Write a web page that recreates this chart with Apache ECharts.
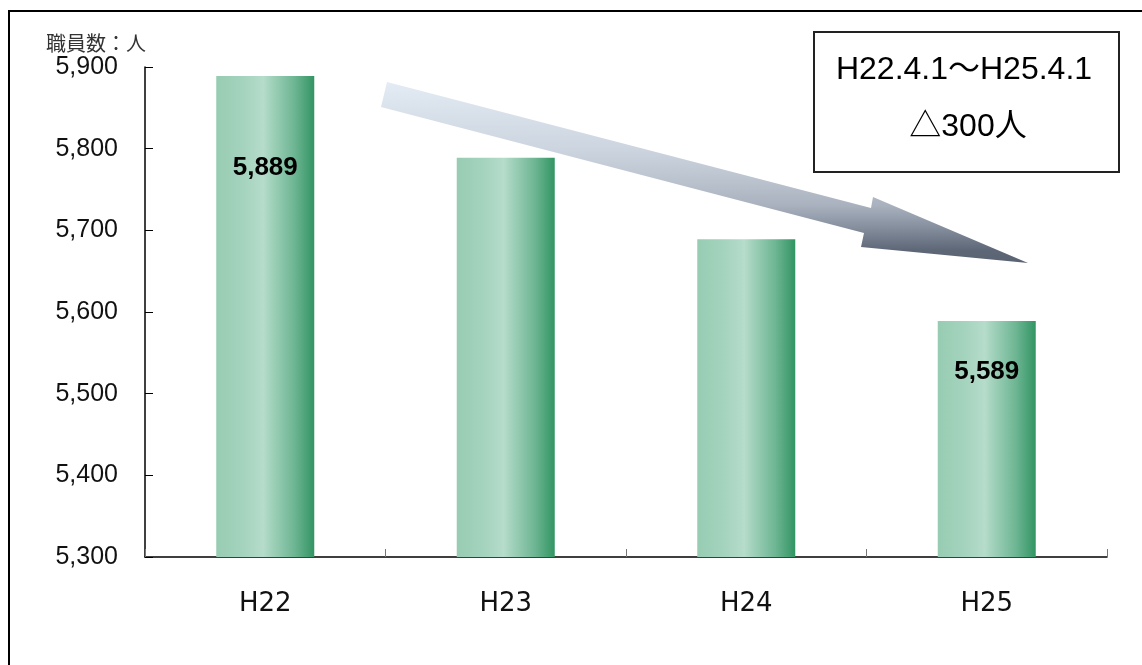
<!DOCTYPE html>
<html>
<head>
<meta charset="utf-8">
<script src="https://cdn.jsdelivr.net/npm/echarts@6/dist/echarts.min.js"></script>
<style>
html,body{margin:0;padding:0;background:#fff;}
#chart{width:1142px;height:665px;}
</style>
</head>
<body>
<div id="chart"></div>
<script>
const categories = ['H22', 'H23', 'H24', 'H25'];
const staffCounts = [5889, 5789, 5689, 5589];
const yTicks = [5300, 5400, 5500, 5600, 5700, 5800, 5900];
const labelledBars = ['H22', 'H25'];
const labelOffsets = [79, 0, 0, 38];
const yAxisTitle = '職員数：人';
const noteLines = ['H22.4.1～H25.4.1', '△300人'];

const chart = echarts.init(document.getElementById('chart'), null, {renderer: 'canvas'});

const barGradient = new echarts.graphic.LinearGradient(0, 0, 1, 0, [
  {offset: 0, color: '#97ccb2'},
  {offset: 0.3, color: '#a6d4bf'},
  {offset: 0.48, color: '#b6dccb'},
  {offset: 0.56, color: '#a2d2bb'},
  {offset: 0.8, color: '#6db593'},
  {offset: 1, color: '#329562'}
]);

const arrowGradient = new echarts.graphic.LinearGradient(0, 80, 0, 265, [
  {offset: 0, color: '#e4ecf6'},
  {offset: 0.15, color: '#dae2ec'},
  {offset: 0.38, color: '#ccd4df'},
  {offset: 0.55, color: '#bac2ce'},
  {offset: 0.68, color: '#a9b1be'},
  {offset: 0.8, color: '#848e9d'},
  {offset: 0.92, color: '#5d6777'},
  {offset: 1, color: '#58626f'}
], true);

const fmt = v => v.toLocaleString('en-US');

const seriesData = staffCounts.map((v, i) => {
  const item = {value: v};
  if (labelledBars.indexOf(categories[i]) >= 0) {
    item.label = {
      show: true,
      position: 'insideTop',
      distance: labelOffsets[i],
      formatter: p => fmt(p.value),
      fontFamily: 'Liberation Sans, Arial, sans-serif',
      fontWeight: 'bold',
      fontSize: 26,
      color: '#000'
    };
  }
  return item;
});

const option = {
  backgroundColor: '#fff',
  animation: false,
  grid: {left: 145, right: 35, top: 67, bottom: 108, containLabel: false},
  xAxis: {
    type: 'category',
    data: categories,
    axisLine: {show: true, lineStyle: {color: '#000', width: 1.5}},
    axisTick: {show: true, inside: true, length: 8, alignWithLabel: false, lineStyle: {color: '#777', width: 1}},
    axisLabel: {
      margin: 34,
      fontFamily: 'DejaVu Sans, sans-serif',
      fontSize: 26,
      color: '#111'
    },
    splitLine: {show: false}
  },
  yAxis: {
    type: 'value',
    min: yTicks[0],
    max: yTicks[yTicks.length - 1],
    interval: 100,
    axisLine: {show: true, lineStyle: {color: '#000', width: 1.5}},
    axisTick: {show: true, inside: true, length: 8, lineStyle: {color: '#000', width: 1}},
    axisLabel: {
      margin: 27,
      formatter: v => fmt(v),
      fontFamily: 'Liberation Sans, Arial, sans-serif',
      fontSize: 25,
      color: '#111'
    },
    splitLine: {show: false}
  },
  series: [{
    type: 'bar',
    data: seriesData,
    barWidth: 98,
    itemStyle: {color: barGradient},
    label: {show: false}
  }],
  graphic: [
    {
      type: 'rect',
      shape: {x: 9, y: 11, width: 1160, height: 680},
      style: {fill: 'none', stroke: '#000', lineWidth: 2},
      z: 100
    },
    {
      type: 'text',
      left: 46,
      top: 33,
      style: {
        text: yAxisTitle,
        fontFamily: 'Noto Sans CJK JP, sans-serif',
        fontSize: 20,
        fill: '#333'
      }
    },
    {
      type: 'polygon',
      shape: {points: [[387, 82], [871, 208], [873, 197], [1028, 263], [861, 247], [864, 233], [381, 107]]},
      style: {fill: arrowGradient},
      z: 50
    },
    {
      type: 'rect',
      shape: {x: 814, y: 32, width: 305, height: 140},
      style: {fill: '#fff', stroke: '#222', lineWidth: 2},
      z: 60
    },
    {
      type: 'text',
      x: 964,
      y: 70,
      style: {
        text: noteLines[0],
        align: 'center',
        verticalAlign: 'middle',
        fontFamily: 'Liberation Sans, Noto Sans CJK JP, sans-serif',
        fontSize: 32,
        fill: '#000'
      },
      z: 61
    },
    {
      type: 'text',
      x: 968,
      y: 127,
      style: {
        text: noteLines[1],
        align: 'center',
        verticalAlign: 'middle',
        fontFamily: 'Liberation Sans, Noto Sans CJK JP, sans-serif',
        fontSize: 32,
        fill: '#000'
      },
      z: 61
    }
  ]
};

chart.setOption(option);
</script>
</body>
</html>
